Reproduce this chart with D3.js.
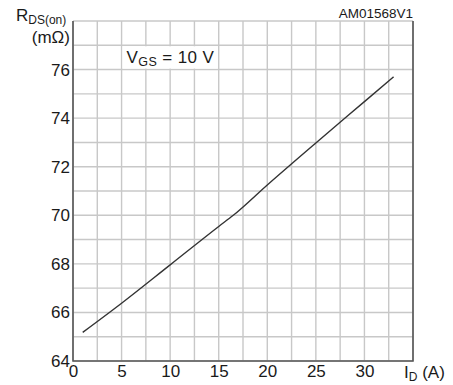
<!DOCTYPE html>
<html>
<head>
<meta charset="utf-8">
<script src="https://cdn.jsdelivr.net/npm/d3@7"></script>
<style>
  html, body { margin: 0; padding: 0; background: #fff; }
  svg text { font-family: "Liberation Sans", Arial, sans-serif; fill: #1a1a1a; }
</style>
</head>
<body>
<svg id="chart" width="453" height="385"></svg>
<script>
// Drain current I_D (A) vs. static drain-source on-resistance (mΩ), V_GS = 10 V
const currentA = [1, 5, 10, 15, 16.5, 20, 25, 30, 33];
const rdsOn    = [65.18, 66.38, 67.96, 69.54, 70.0, 71.25, 72.98, 74.68, 75.7];

const xTicks = [0, 5, 10, 15, 20, 25, 30];
const yTicks = [64, 66, 68, 70, 72, 74, 76];
const xGrid = d3.range(0, 35.01, 2.5);
const yGrid = d3.range(64, 78.01, 1);

const margin = { left: 73, right: 40, top: 21, bottom: 24 };
const W = 453, H = 385;
const svg = d3.select("#chart");

const x = d3.scaleLinear().domain([0, 35]).range([margin.left, W - margin.right]);
const y = d3.scaleLinear().domain([64, 78]).range([H - margin.bottom, margin.top]);

// grid
const grid = svg.append("g").attr("stroke", "#c8c8c8").attr("stroke-width", 1.4);
grid.selectAll("line.v").data(xGrid).join("line")
  .attr("x1", d => x(d)).attr("x2", d => x(d))
  .attr("y1", y(64)).attr("y2", y(78));
grid.selectAll("line.h").data(yGrid).join("line")
  .attr("x1", x(0)).attr("x2", x(35))
  .attr("y1", d => y(d)).attr("y2", d => y(d));

// condition label box
const box = svg.append("g");
box.append("rect")
  .attr("x", x(5) + 1).attr("y", y(77) + 1)
  .attr("width", x(15) - x(5) - 2).attr("height", y(76) - y(77) - 2)
  .attr("fill", "#fff");
const vgs = box.append("text").attr("x", x(5) + 5).attr("y", y(76) - 6.5)
  .attr("font-size", 17).attr("letter-spacing", 0.4);
vgs.append("tspan").text("V");
vgs.append("tspan").attr("font-size", 12.5).attr("dy", 3).text("GS");
vgs.append("tspan").attr("dy", -3).text(" = 10 V");

// frame
svg.append("path")
  .attr("d", `M${x(0)},${y(78)}V${y(64)}H${x(35)}V${y(78)}`)
  .attr("fill", "none").attr("stroke", "#555").attr("stroke-width", 1.6);

// tick labels via d3 axes (no tick marks)
const xAxis = svg.append("g")
  .attr("transform", `translate(0,${y(64)})`)
  .call(d3.axisBottom(x).tickValues(xTicks).tickSize(0).tickPadding(4).tickFormat(d3.format("d")));
xAxis.select(".domain").remove();
xAxis.selectAll("text").attr("font-size", 17).attr("font-family", "Liberation Sans, Arial, sans-serif").attr("fill", "#1a1a1a");

const yAxis = svg.append("g")
  .attr("transform", `translate(${x(0)},0)`)
  .call(d3.axisLeft(y).tickValues(yTicks).tickSize(0).tickPadding(3).tickFormat(d3.format("d")));
yAxis.select(".domain").remove();
yAxis.selectAll("text").attr("font-size", 17).attr("font-family", "Liberation Sans, Arial, sans-serif").attr("fill", "#1a1a1a");

// curve
svg.append("path")
  .datum(currentA.map((c, i) => [c, rdsOn[i]]))
  .attr("fill", "none").attr("stroke", "#333").attr("stroke-width", 1.4)
  .attr("d", d3.line().x(d => x(d[0])).y(d => y(d[1])).curve(d3.curveMonotoneX));

// y title
const yt = svg.append("text").attr("x", 16).attr("y", 21).attr("font-size", 17);
yt.append("tspan").text("R");
yt.append("tspan").attr("font-size", 12).attr("dy", 3).text("DS(on)");
svg.append("text").attr("x", 70).attr("y", 43).attr("text-anchor", "end").attr("font-size", 17).text("(mΩ)");

// x title
const xt = svg.append("text").attr("x", 404).attr("y", 378).attr("font-size", 17);
xt.append("tspan").text("I");
xt.append("tspan").attr("font-size", 12).attr("dy", 3).text("D");
xt.append("tspan").attr("dy", -3).text(" (A)");

// document code
svg.append("text").attr("x", x(35)).attr("y", 18).attr("text-anchor", "end").attr("font-size", 13.5).text("AM01568V1");
</script>
</body>
</html>
